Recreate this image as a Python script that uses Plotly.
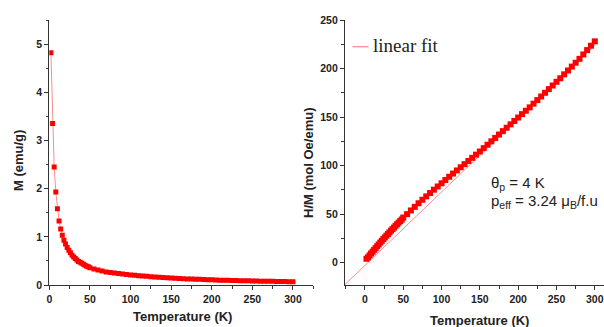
import plotly.graph_objects as go

# ---- data ----
T_left = [2, 4, 6, 8, 10, 12, 14, 16, 18, 20, 22, 24, 26, 28, 30, 32, 34, 36, 38, 40,
          42, 44, 46, 48, 50, 55, 60, 65, 70, 75, 80, 85, 90, 95, 100, 105, 110, 115,
          120, 125, 130, 135, 140, 145, 150, 155, 160, 165, 170, 175, 180, 185, 190,
          195, 200, 205, 210, 215, 220, 225, 230, 235, 240, 245, 250, 255, 260, 265,
          270, 275, 280, 285, 290, 295, 300]
M_left = [4.82, 3.35, 2.45, 1.93, 1.58, 1.33, 1.16, 1.03, 0.93, 0.85, 0.78, 0.72, 0.67,
          0.62, 0.58, 0.55, 0.52, 0.49, 0.47, 0.45, 0.43, 0.41, 0.39, 0.38, 0.36, 0.33,
          0.31, 0.29, 0.27, 0.26, 0.25, 0.24, 0.23, 0.22, 0.21, 0.20, 0.19, 0.185, 0.18,
          0.17, 0.165, 0.16, 0.155, 0.15, 0.145, 0.14, 0.135, 0.13, 0.127, 0.123, 0.12,
          0.117, 0.113, 0.11, 0.107, 0.104, 0.101, 0.099, 0.096, 0.094, 0.092, 0.09,
          0.088, 0.086, 0.084, 0.082, 0.08, 0.079, 0.077, 0.076, 0.074, 0.073, 0.071,
          0.07, 0.069]

T_right = T_left
HM_right = [4, 5.5, 7.5, 9.5, 11.3, 13.2, 15, 17, 18.8, 20.7, 22.5, 24.3, 26, 27.8, 29.5,
            31.2, 33, 34.6, 36.2, 38, 39.6, 41.2, 42.8, 44.4, 46.5, 50, 53.8, 57.5, 61.2,
            64.8, 68.3, 71.8, 75.2, 78.5, 81.8, 85.2, 88.5, 91.8, 95, 98.3, 101.5, 104.8,
            108, 111.3, 114.5, 118, 121.5, 125, 128.5, 132, 135.5, 139, 142.5, 146,
            149.5, 153, 156.5, 160, 163.8, 167.5, 171.2, 175, 178.8, 182.5, 186.3, 190,
            194, 198, 202, 206, 210, 214.5, 219, 223.5, 228]

fit_T = [-26, 300]
fit_HM = [-22.5, 224]

x_ticks = [0, 50, 100, 150, 200, 250, 300]
y_ticks_left = [0, 1, 2, 3, 4, 5]
y_ticks_right = [0, 50, 100, 150, 200, 250]

W, H = 604, 327
TXT = "#222222"
AX = "#333333"
RED = "#ff0000"
PINK = "#ff8c8c"

fig = go.Figure()
fig.add_trace(go.Scatter(x=T_left, y=M_left, mode="lines+markers",
                         line=dict(color=PINK, width=1),
                         marker=dict(symbol="square", size=5, color=RED),
                         xaxis="x", yaxis="y", showlegend=False))
fig.add_trace(go.Scatter(x=fit_T, y=fit_HM, mode="lines",
                         line=dict(color=PINK, width=1),
                         xaxis="x2", yaxis="y2", showlegend=False))
fig.add_trace(go.Scatter(x=T_right, y=HM_right, mode="markers",
                         marker=dict(symbol="square", size=6, color=RED),
                         xaxis="x2", yaxis="y2", showlegend=False))

tickfont = dict(family="Liberation Sans", size=10.5, color=TXT, weight="bold")
common = dict(showline=True, linecolor=AX, linewidth=1.3, ticks="outside",
              ticklen=4, tickwidth=1.2, tickcolor=AX, showgrid=False, zeroline=False,
              tickfont=tickfont, automargin=False,
              minor=dict(ticks="outside", ticklen=2.5, tickwidth=1, tickcolor=AX))

ydom = [1 - 285 / H, 1 - 20 / H]
fig.update_layout(
    width=W, height=H, margin=dict(l=0, r=0, t=0, b=0, autoexpand=False),
    paper_bgcolor="white", plot_bgcolor="white",
    xaxis=dict(domain=[49.3 / W, 313.3 / W], range=[0, 325], tickvals=x_ticks,
               minor_dtick=25, anchor="y", **common),
    yaxis=dict(domain=ydom, range=[0, 5.5], tickvals=y_ticks_left,
               minor_dtick=0.5, anchor="x", **common),
    xaxis2=dict(domain=[345 / W, 1.0], range=[-26, 312], tickvals=x_ticks,
                minor_dtick=25, anchor="y2", **common),
    yaxis2=dict(domain=ydom, range=[-23, 250], tickvals=y_ticks_right,
                minor_dtick=25, anchor="x2", **common),
)
fig.update_xaxes(minor_tick0=0)
fig.update_yaxes(minor_tick0=0)

titlefont = dict(family="Liberation Sans", size=13, color=TXT, weight="bold")
ann = [
    dict(text="Temperature (K)", x=182 / W, y=1 - 316 / H, xref="paper", yref="paper",
         showarrow=False, font=titlefont, xanchor="center", yanchor="middle"),
    dict(text="Temperature (K)", x=480 / W, y=1 - 320 / H, xref="paper", yref="paper",
         showarrow=False, font=titlefont, xanchor="center", yanchor="middle"),
    dict(text="M (emu/g)", x=18 / W, y=1 - 161 / H, xref="paper", yref="paper",
         showarrow=False, font=titlefont, textangle=-90, xanchor="center", yanchor="middle"),
    dict(text="H/M (mol Oe/emu)", x=308 / W, y=1 - 163 / H, xref="paper", yref="paper",
         showarrow=False, font=titlefont, textangle=-90, xanchor="center", yanchor="middle"),
    dict(text="linear fit", x=371 / W, y=1 - 45 / H, xref="paper", yref="paper",
         showarrow=False, font=dict(family="Liberation Serif", size=19, color=TXT),
         xanchor="left", yanchor="middle"),
    dict(text="θ<sub>p</sub> = 4 K", x=489 / W, y=1 - 183 / H, xref="paper", yref="paper",
         showarrow=False, font=dict(family="Liberation Sans", size=15, color=TXT),
         xanchor="left", yanchor="middle"),
    dict(text="p<sub>eff</sub> = 3.24 μ<sub>B</sub>/f.u", x=489 / W, y=1 - 201 / H,
         xref="paper", yref="paper",
         showarrow=False, font=dict(family="Liberation Sans", size=15, color=TXT),
         xanchor="left", yanchor="middle"),
]
fig.update_layout(annotations=ann)
fig.add_shape(type="line", xref="paper", yref="paper",
              x0=352.5 / W, x1=368.5 / W, y0=1 - 46.7 / H, y1=1 - 46.7 / H,
              line=dict(color=PINK, width=1.3))

fig.write_html("out.html", config={"displayModeBar": False},
               post_script="document.body.style.margin='0';document.body.style.overflow='hidden';")
